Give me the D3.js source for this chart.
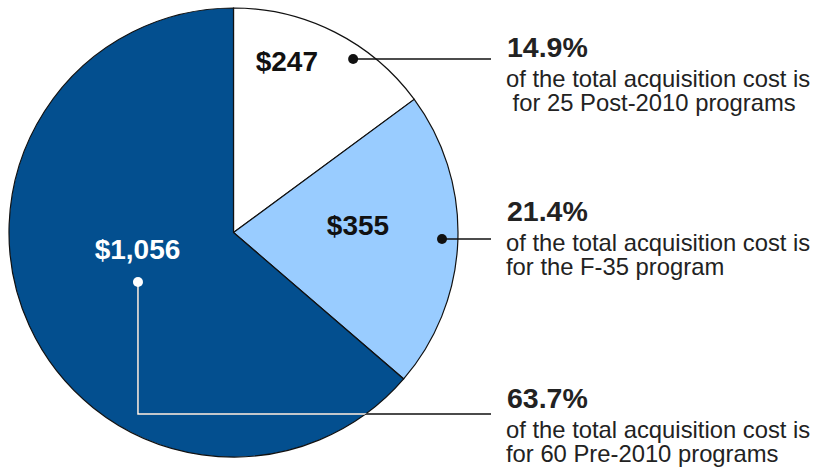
<!DOCTYPE html>
<html lang="en">
<head>
  <meta charset="UTF-8">
  <title>Acquisition cost</title>
  <style>
    body{ margin:0; background:#fff; }
    svg{ display:block; font-family:"Liberation Sans", Arial, sans-serif; }
    .desc{ font-size:23.8px; fill:#222; white-space:pre; }
    .pct{ font-size:28.5px; font-weight:bold; fill:#222; }
    .val{ font-size:28px; font-weight:bold; }
  </style>
</head>
<body>
<svg id="chart" width="818" height="470"></svg>

<script src="https://cdn.jsdelivr.net/npm/d3@7"></script>
<script>
  "use strict";

  var
    categories = ["Post-2010 programs", "F-35 program", "Pre-2010 programs"],
    costs = [247, 355, 1056],                 // $ billions
    costLabels = ["$247", "$355", "$1,056"],
    descLines = [
      ["of the total acquisition cost is", " for 25 Post-2010 programs"],
      ["of the total acquisition cost is", "for the F-35 program"],
      ["of the total acquisition cost is", "for 60 Pre-2010 programs"]
    ],
    colors = ["#ffffff", "#99ccff", "#034f8f"],
    labelColors = ["#111", "#111", "#fff"];

  // label / dot placement (radius, degrees clockwise from top)
  var
    labelPolar = [[170, 18.3], [124.5, 91.2], [99.6, 254.6]],
    dotPolar = [[210.7, 34.6], [208.6, 91.8], [107.6, 242.6]],
    cx = 233.5, cy = 232.5, radius = 224.5,
    leaderEnd = 491, textX = 506, lastLeaderY = 414,
    blockY = [57, 221, 408];

  var svg = d3.select("#chart");
  var total = d3.sum(costs);
  var fmt = d3.format(".1%");

  var polar = function(p){
    var a = p[1] * Math.PI / 180;
    return [cx + p[0] * Math.sin(a), cy - p[0] * Math.cos(a)];
  };

  var pie = d3.pie().sort(null).value(function(d){ return d; });
  var arc = d3.arc().innerRadius(0).outerRadius(radius);

  var g = svg.append("g").attr("transform", "translate(" + cx + "," + cy + ")");
  g.selectAll("path")
    .data(pie(costs))
    .enter()
    .append("path")
    .attr("d", arc)
    .attr("fill", function(d,i){ return colors[i]; })
    .attr("stroke", "#111")
    .attr("stroke-width", 1.2);

  svg.append("clipPath").attr("id", "pieClip")
    .append("circle").attr("cx", cx).attr("cy", cy).attr("r", radius);

  // leader lines
  var leaderPts = dotPolar.map(function(p, i){
    var d = polar(p);
    if (i === 2) return [d, [d[0], lastLeaderY], [leaderEnd, lastLeaderY]];
    return [d, [leaderEnd, d[1]]];
  });
  var line = d3.line();

  svg.selectAll("path.leader")
    .data(leaderPts)
    .enter()
    .append("path")
    .attr("class", "leader")
    .attr("d", line)
    .attr("fill", "none")
    .attr("stroke", "#111")
    .attr("stroke-width", 1.5);

  // part of the last leader that sits on the dark slice is white
  svg.append("path")
    .attr("d", line(leaderPts[2]))
    .attr("clip-path", "url(#pieClip)")
    .attr("fill", "none")
    .attr("stroke", "#fff")
    .attr("stroke-width", 1.5);

  svg.selectAll("circle.dot")
    .data(dotPolar)
    .enter()
    .append("circle")
    .attr("class", "dot")
    .attr("cx", function(d){ return polar(d)[0]; })
    .attr("cy", function(d){ return polar(d)[1]; })
    .attr("r", 5)
    .attr("fill", function(d,i){ return labelColors[i]; });

  // values inside the slices
  svg.selectAll("text.val")
    .data(costLabels)
    .enter()
    .append("text")
    .attr("class", "val")
    .attr("x", function(d,i){ return polar(labelPolar[i])[0]; })
    .attr("y", function(d,i){ return polar(labelPolar[i])[1]; })
    .attr("text-anchor", "middle")
    .attr("fill", function(d,i){ return labelColors[i]; })
    .text(function(d){ return d; });

  // text blocks on the right
  var blocks = svg.selectAll("g.block")
    .data(costs)
    .enter()
    .append("g")
    .attr("class", "block")
    .attr("transform", function(d,i){
      return "translate(" + textX + "," + blockY[i] + ")";
    });

  blocks.append("text")
    .attr("class", "pct")
    .attr("x", 1)
    .text(function(d){ return fmt(d / total); });

  blocks.each(function(d,i){
    d3.select(this).selectAll("text.desc")
      .data(descLines[i])
      .enter()
      .append("text")
      .attr("class", "desc")
      .attr("y", function(t,j){ return 30 + j * 24; })
      .text(function(t){ return t; });
  });
</script>
</body>
</html>
